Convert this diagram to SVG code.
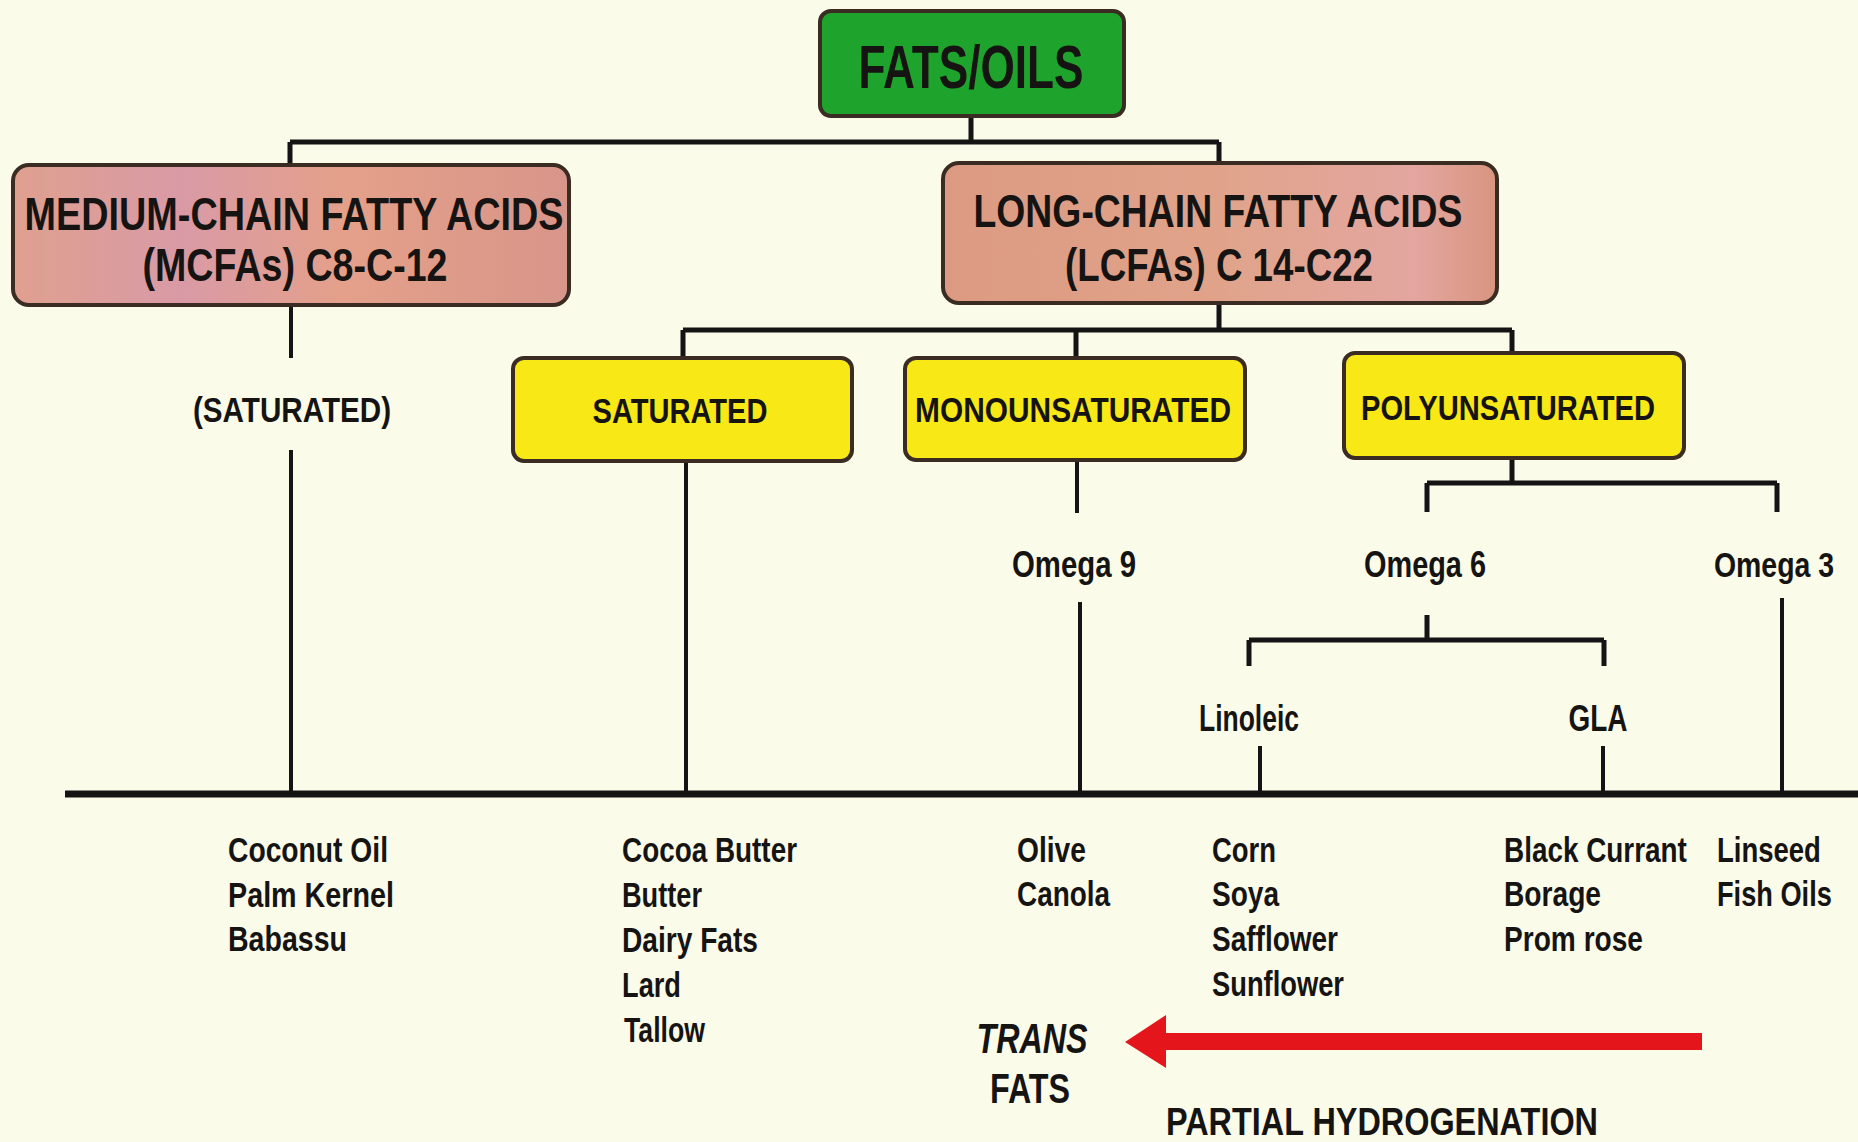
<svg xmlns="http://www.w3.org/2000/svg" width="1858" height="1142" viewBox="0 0 1858 1142">
<defs>
<linearGradient id="gM" x1="0" y1="0" x2="1" y2="0">
<stop offset="0" stop-color="#dfa08f"/>
<stop offset="0.3" stop-color="#d99aa6"/>
<stop offset="0.6" stop-color="#e4a089"/>
<stop offset="1" stop-color="#d8958a"/>
</linearGradient>
<linearGradient id="gL" x1="0" y1="0" x2="1" y2="0">
<stop offset="0" stop-color="#dc9a82"/>
<stop offset="0.5" stop-color="#e0a38a"/>
<stop offset="0.85" stop-color="#e3a6a0"/>
<stop offset="1" stop-color="#d8957f"/>
</linearGradient>
<style>
text{font-family:"Liberation Sans",Arial,sans-serif;fill:#161412;font-weight:bold;}
.hd{font-size:46px;text-anchor:middle;}
.yb{font-size:35px;text-anchor:middle;}
.lb{font-size:36px;text-anchor:middle;}
.it{font-size:35px;}
.box{stroke:#3a2c22;stroke-width:4;}
.ln{stroke:#141414;fill:none;stroke-width:5;}
.thin{stroke:#141414;fill:none;stroke-width:4;}
</style>
</defs>
<rect x="0" y="0" width="1858" height="1142" fill="#fbfbea"/>

<g id="connectors">
<path class="ln" d="M971 116 V142 M290 142 H1219 M290 142 V165 M1219 142 V163"/>
<path class="ln" d="M1219 303 V330 M683 330 H1512 M683 330 V358 M1076 330 V358 M1512 330 V353"/>
<path class="thin" d="M291 306 V358 M291 450 V794"/>
<path class="thin" d="M686 460 V794"/>
<path class="thin" d="M1077 460 V513 M1080 602 V794"/>
<path class="ln" d="M1512 458 V483 M1427 483 H1777 M1427 483 V512 M1777 483 V512"/>
<path class="thin" d="M1782 598 V794"/>
<path class="ln" d="M1427 615 V640 M1249 640 H1604 M1249 640 V666 M1604 640 V666"/>
<path class="thin" d="M1260 746 V794 M1603 746 V794"/>
<path stroke="#141414" stroke-width="7" d="M65 794 H1858"/>
<path id="arrow" fill="#e5161b" d="M1702 1033 V1050 H1166 V1068 L1125 1042 L1166 1015 V1033 Z"/>
</g>

<g id="fats-oils">
<rect class="box" x="820" y="11" width="304" height="105" rx="11" fill="#1ea42c" stroke="#1c351c"/>
<text x="971" y="88" font-size="62" text-anchor="middle" textLength="225" lengthAdjust="spacingAndGlyphs">FATS/OILS</text>
</g>

<g id="mcfa">
<rect class="box" x="13" y="165" width="556" height="140" rx="16" fill="url(#gM)"/>
<text class="hd" x="294" y="230" textLength="539" lengthAdjust="spacingAndGlyphs">MEDIUM-CHAIN FATTY ACIDS</text>
<text class="hd" x="295" y="281" font-size="44" textLength="305" lengthAdjust="spacingAndGlyphs">(MCFAs) C8-C-12</text>
</g>

<g id="lcfa">
<rect class="box" x="943" y="163" width="554" height="140" rx="16" fill="url(#gL)"/>
<text class="hd" x="1218" y="227" textLength="489" lengthAdjust="spacingAndGlyphs">LONG-CHAIN FATTY ACIDS</text>
<text class="hd" x="1219" y="281" font-size="44" textLength="308" lengthAdjust="spacingAndGlyphs">(LCFAs) C 14-C22</text>
</g>

<g id="mcfa-saturated">
<text class="yb" x="292" y="422" textLength="198" lengthAdjust="spacingAndGlyphs">(SATURATED)</text>
</g>

<g id="saturated">
<rect class="box" x="513" y="358" width="339" height="103" rx="11" fill="#f8e816"/>
<text class="yb" x="680" y="423" textLength="175" lengthAdjust="spacingAndGlyphs">SATURATED</text>
</g>

<g id="monounsaturated">
<rect class="box" x="905" y="358" width="340" height="102" rx="11" fill="#f8e816"/>
<text class="yb" x="1073" y="422" textLength="316" lengthAdjust="spacingAndGlyphs">MONOUNSATURATED</text>
</g>

<g id="polyunsaturated">
<rect class="box" x="1344" y="353" width="340" height="105" rx="11" fill="#f8e816"/>
<text class="yb" x="1508" y="420" textLength="294" lengthAdjust="spacingAndGlyphs">POLYUNSATURATED</text>
</g>

<g id="omega9"><text class="lb" x="1074" y="577" textLength="124" lengthAdjust="spacingAndGlyphs">Omega 9</text></g>
<g id="omega6"><text class="lb" x="1425" y="577" textLength="122" lengthAdjust="spacingAndGlyphs">Omega 6</text></g>
<g id="omega3"><text class="lb" transform="translate(1774 577) scale(0.79 1)">Omega 3</text></g>
<g id="linoleic"><text class="lb" x="1249" y="731" font-size="35" textLength="100" lengthAdjust="spacingAndGlyphs">Linoleic</text></g>
<g id="gla"><text class="lb" x="1598" y="731" font-size="35" textLength="59" lengthAdjust="spacingAndGlyphs">GLA</text></g>

<g id="list-mcfa">
<text class="it" x="228" y="862" textLength="160" lengthAdjust="spacingAndGlyphs">Coconut Oil</text>
<text class="it" x="228" y="907" textLength="166" lengthAdjust="spacingAndGlyphs">Palm Kernel</text>
<text class="it" x="228" y="951" textLength="119" lengthAdjust="spacingAndGlyphs">Babassu</text>
</g>

<g id="list-saturated">
<text class="it" x="622" y="862" textLength="175" lengthAdjust="spacingAndGlyphs">Cocoa Butter</text>
<text class="it" x="622" y="907" textLength="80" lengthAdjust="spacingAndGlyphs">Butter</text>
<text class="it" x="622" y="952" textLength="136" lengthAdjust="spacingAndGlyphs">Dairy Fats</text>
<text class="it" x="622" y="997" textLength="59" lengthAdjust="spacingAndGlyphs">Lard</text>
<text class="it" x="624" y="1042" textLength="81" lengthAdjust="spacingAndGlyphs">Tallow</text>
</g>

<g id="list-omega9">
<text class="it" x="1017" y="862" textLength="69" lengthAdjust="spacingAndGlyphs">Olive</text>
<text class="it" x="1017" y="906" textLength="93" lengthAdjust="spacingAndGlyphs">Canola</text>
</g>

<g id="list-linoleic">
<text class="it" x="1212" y="862" textLength="64" lengthAdjust="spacingAndGlyphs">Corn</text>
<text class="it" x="1212" y="906" textLength="67" lengthAdjust="spacingAndGlyphs">Soya</text>
<text class="it" x="1212" y="951" textLength="126" lengthAdjust="spacingAndGlyphs">Safflower</text>
<text class="it" x="1212" y="996" textLength="132" lengthAdjust="spacingAndGlyphs">Sunflower</text>
</g>

<g id="list-gla">
<text class="it" transform="translate(1504 862) scale(0.797 1)">Black Currant</text>
<text class="it" x="1504" y="906" textLength="97" lengthAdjust="spacingAndGlyphs">Borage</text>
<text class="it" x="1504" y="951" textLength="139" lengthAdjust="spacingAndGlyphs">Prom rose</text>
</g>

<g id="list-omega3">
<text class="it" transform="translate(1717 862) scale(0.786 1)">Linseed</text>
<text class="it" transform="translate(1717 906) scale(0.777 1)">Fish Oils</text>
</g>

<g id="trans-fats">
<text x="1032" y="1053" font-size="42" font-style="italic" text-anchor="middle" textLength="111" lengthAdjust="spacingAndGlyphs">TRANS</text>
<text x="1030" y="1103" font-size="42" text-anchor="middle" textLength="80" lengthAdjust="spacingAndGlyphs">FATS</text>
</g>

<g id="partial-hydrogenation">
<text x="1166" y="1135" font-size="38" textLength="432" lengthAdjust="spacingAndGlyphs">PARTIAL HYDROGENATION</text>
</g>
</svg>
